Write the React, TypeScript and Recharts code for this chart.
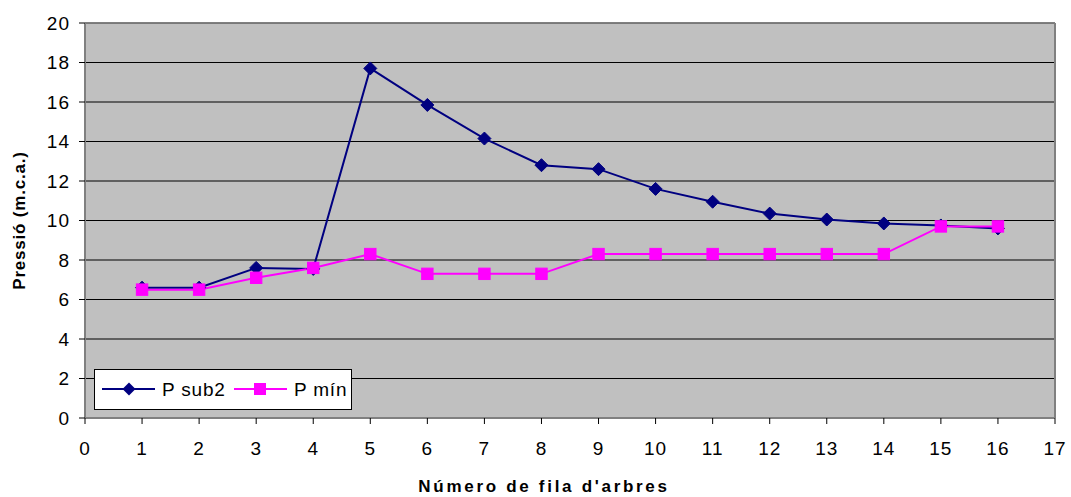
import React from "react";
import { LineChart, Line, XAxis, YAxis, CartesianGrid, ReferenceLine } from "recharts";

const rows = [1, 2, 3, 4, 5, 6, 7, 8, 9, 10, 11, 12, 13, 14, 15, 16];
const pSub2 = [6.6, 6.6, 7.6, 7.55, 17.7, 15.85, 14.15, 12.8, 12.6, 11.6, 10.95, 10.35, 10.05, 9.85, 9.75, 9.6];
const pMin = [6.5, 6.5, 7.1, 7.6, 8.3, 7.3, 7.3, 7.3, 8.3, 8.3, 8.3, 8.3, 8.3, 8.3, 9.7, 9.7];
const xTicks = [0, 1, 2, 3, 4, 5, 6, 7, 8, 9, 10, 11, 12, 13, 14, 15, 16, 17];
const yTicks = [0, 2, 4, 6, 8, 10, 12, 14, 16, 18, 20];

const data = rows.map((r, i) => ({ x: r, psub2: pSub2[i], pmin: pMin[i] }));

const NAVY = "#000080";
const MAGENTA = "#FF00FF";
const FONT = "Liberation Sans, Arial, sans-serif";

const Diamond = (props: any) => {
  const { cx, cy } = props;
  if (cx == null || cy == null) return null;
  const r = 6.5;
  return <path key={`d-${cx}`} d={`M${cx},${cy - r} L${cx + r},${cy} L${cx},${cy + r} L${cx - r},${cy} Z`} fill={NAVY} stroke={NAVY} />;
};

const Square = (props: any) => {
  const { cx, cy } = props;
  if (cx == null || cy == null) return null;
  const s = 5.7;
  return <rect key={`s-${cx}`} x={cx - s} y={cy - s} width={2 * s} height={2 * s} fill={MAGENTA} stroke={MAGENTA} />;
};

const LegendBox = () => (
  <div style={{ position: "absolute", left: 94, top: 369, width: 258, height: 41, background: "#fff", border: "1px solid #000", boxSizing: "border-box" }}>
    <svg width={258} height={41} style={{ position: "absolute", left: -1, top: -1 }}>
      <line x1={8} y1={20} x2={61} y2={20} stroke={NAVY} strokeWidth={2} />
      <path d="M35,13.5 L41.5,20 L35,26.5 L28.5,20 Z" fill={NAVY} />
      <text x={68} y={27} fontSize={19} letterSpacing={0.8} fontFamily={FONT} fill="#000">P sub2</text>
      <line x1={140} y1={20} x2={193} y2={20} stroke={MAGENTA} strokeWidth={2} />
      <rect x={160} y={14} width={12} height={12} fill={MAGENTA} />
      <text x={200} y={27} fontSize={19} letterSpacing={0.8} fontFamily={FONT} fill="#000">P mín</text>
    </svg>
  </div>
);

export default function App() {
  return (
    <div style={{ position: "absolute", left: 0, top: 0, width: 1071, height: 497, background: "#fff" }}>
      <LineChart width={1071} height={497} data={data} margin={{ top: 23, right: 16, bottom: 0, left: 0 }}>
        <CartesianGrid horizontal vertical={false} stroke="#000" fill="#C0C0C0" fillOpacity={1} />
        <XAxis
          dataKey="x"
          type="number"
          domain={[0, 17]}
          ticks={xTicks}
          interval={0}
          height={79}
          stroke="#808080"
          strokeWidth={2}
          tickSize={6}
          tickMargin={18}
          tick={{ fill: "#000", fontSize: 19, fontFamily: FONT, letterSpacing: 1 }}
          tickLine={{ stroke: "#000", strokeWidth: 1 }}
          label={{ value: "Número de fila d'arbres", position: "insideBottom", offset: 5, dx: -26, style: { fontWeight: "bold", fontSize: 17, letterSpacing: 2.7, fontFamily: FONT, fill: "#000" } }}
        />
        <YAxis
          type="number"
          domain={[0, 20]}
          ticks={yTicks}
          interval={0}
          width={85}
          stroke="#808080"
          strokeWidth={2}
          tickSize={6}
          tickMargin={9}
          tick={{ fill: "#000", fontSize: 19, fontFamily: FONT, letterSpacing: 1 }}
          tickLine={{ stroke: "#000", strokeWidth: 1 }}
          label={{ value: "Pressió (m.c.a.)", angle: -90, position: "insideLeft", offset: 19, style: { fontWeight: "bold", fontSize: 17, letterSpacing: 0.8, fontFamily: FONT, fill: "#000", textAnchor: "middle" } }}
        />
        <ReferenceLine y={20} stroke="#808080" strokeWidth={1.5} ifOverflow="visible" />
        <ReferenceLine x={17} stroke="#808080" strokeWidth={2} ifOverflow="visible" />
        <Line type="linear" dataKey="psub2" stroke={NAVY} strokeWidth={2} dot={<Diamond />} activeDot={false} isAnimationActive={false} />
        <Line type="linear" dataKey="pmin" stroke={MAGENTA} strokeWidth={2} dot={<Square />} activeDot={false} isAnimationActive={false} />
      </LineChart>
      <LegendBox />
    </div>
  );
}
